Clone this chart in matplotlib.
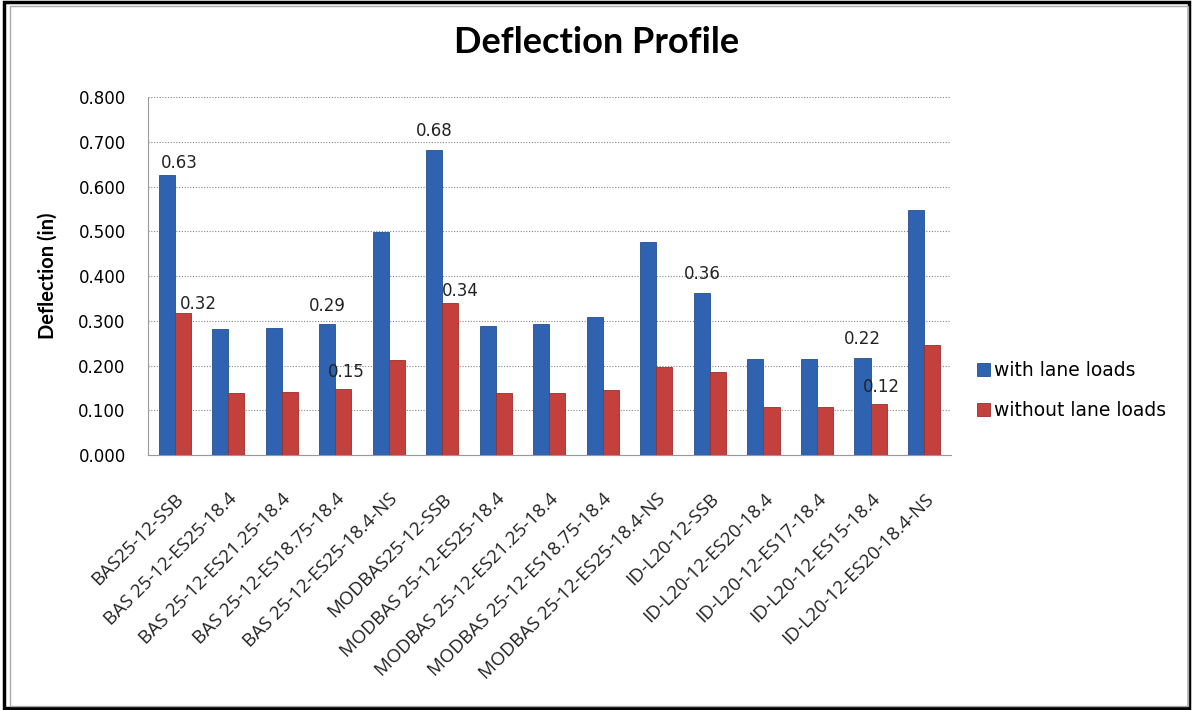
import numpy as np
import matplotlib
matplotlib.use("Agg")
import matplotlib.pyplot as plt
import matplotlib.ticker as mticker
from matplotlib.patches import Rectangle

# ── Dados ────────────────────────────────────────────────────────────────────
categorias = [
    "BAS25-12-SSB",
    "BAS 25-12-ES25-18.4",
    "BAS 25-12-ES21.25-18.4",
    "BAS 25-12-ES18.75-18.4",
    "BAS 25-12-ES25-18.4-NS",
    "MODBAS25-12-SSB",
    "MODBAS 25-12-ES25-18.4",
    "MODBAS 25-12-ES21.25-18.4",
    "MODBAS 25-12-ES18.75-18.4",
    "MODBAS 25-12-ES25-18.4-NS",
    "ID-L20-12-SSB",
    "ID-L20-12-ES20-18.4",
    "ID-L20-12-ES17-18.4",
    "ID-L20-12-ES15-18.4",
    "ID-L20-12-ES20-18.4-NS",
]
com_faixa = [0.627, 0.281, 0.285, 0.292, 0.498, 0.683, 0.288, 0.292, 0.308,
             0.476, 0.362, 0.214, 0.214, 0.218, 0.547]
sem_faixa = [0.318, 0.138, 0.142, 0.147, 0.212, 0.340, 0.138, 0.138, 0.145,
             0.196, 0.186, 0.108, 0.108, 0.114, 0.246]

# rótulos exibidos apenas em algumas barras: índice -> texto
rotulos_com = {0: "0.63", 3: "0.29", 5: "0.68", 10: "0.36", 13: "0.22"}
rotulos_sem = {0: "0.32", 3: "0.15", 5: "0.34", 13: "0.12"}
# deslocamento (pontos) de alguns rótulos
desloc_com = {0: (9, 2)}
desloc_sem = {0: (11, 0), 5: (7, 2)}

AZUL = "#2f63b2"
VERMELHO = "#c4403d"

# ── Figura ───────────────────────────────────────────────────────────────────
fig = plt.figure(figsize=(11.93, 7.10), dpi=100)
ax = fig.add_axes([0.124, 0.359, 0.673, 0.504])

x = np.arange(len(categorias))
larg = 0.3
ax.bar(x - larg / 2, com_faixa, larg, color=AZUL, edgecolor="#24508f",
       linewidth=0.6, label="with lane loads", zorder=3)
ax.bar(x + larg / 2, sem_faixa, larg, color=VERMELHO, edgecolor="#9c2e2b",
       linewidth=0.6, label="without lane loads", zorder=3)

for i, txt in rotulos_com.items():
    ax.annotate(txt, (x[i] - larg / 2, com_faixa[i]),
                xytext=desloc_com.get(i, (0, 7)),
                textcoords="offset points", ha="center", va="bottom",
                fontsize=12, family="DejaVu Sans", color="#222222")
for i, txt in rotulos_sem.items():
    ax.annotate(txt, (x[i] + larg / 2, sem_faixa[i]),
                xytext=desloc_sem.get(i, (2, 6)),
                textcoords="offset points", ha="center", va="bottom",
                fontsize=12, family="DejaVu Sans", color="#222222")

ax.set_xlim(-0.5, len(categorias) - 0.5)
ax.set_ylim(0, 0.8)
ax.yaxis.set_major_locator(mticker.MultipleLocator(0.1))
ax.yaxis.set_major_formatter(mticker.FuncFormatter(lambda v, _: f"{v:.3f}"))
ax.grid(axis="y", color="#888888", linestyle=(0, (1, 1.5)), linewidth=0.8, zorder=0)
for lado in ["top", "right"]:
    ax.spines[lado].set_visible(False)
for lado in ["left", "bottom"]:
    ax.spines[lado].set_color("#999999")
ax.tick_params(axis="y", length=0, labelsize=12, pad=16)
ax.tick_params(axis="x", length=0, pad=25)
for lbl in ax.get_yticklabels():
    lbl.set_family("DejaVu Sans")

ax.set_xticks(x)
ax.set_xticklabels(categorias, rotation=45, ha="right", rotation_mode="anchor",
                   fontsize=13.5, family="Open Sans", color="#222222")

ax.set_ylabel("Deflection (in)", fontsize=14.5, fontweight="bold", family="Lato")
ax.yaxis.set_label_coords(-0.113, 0.5)

fig.text(0.5, 0.94, "Deflection Profile", ha="center", va="center",
         fontsize=26, fontweight="bold", family="Lato")

ax.legend(loc="center left", bbox_to_anchor=(1.032, 0.18), frameon=False,
          borderaxespad=0, borderpad=0,
          handlelength=0.7, handleheight=0.7, handletextpad=0.25,
          labelspacing=1.1, prop={"family": "DejaVu Sans", "size": 13.5})

# moldura externa
fig.patches.append(Rectangle((0.003, 0.003), 0.994, 0.994, transform=fig.transFigure,
                             fill=False, edgecolor="black", linewidth=2.5))
fig.patches.append(Rectangle((0.008, 0.006), 0.988, 0.986, transform=fig.transFigure,
                             fill=False, edgecolor="#aaaaaa", linewidth=1.0))

plt.savefig("out.png", dpi=100)
plt.close()
